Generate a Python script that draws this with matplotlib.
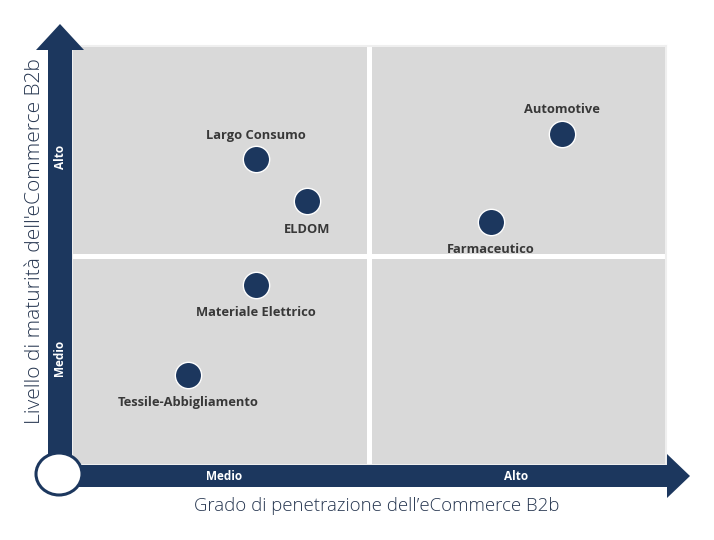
import matplotlib.pyplot as plt
from matplotlib.patches import Polygon, Ellipse

# data (x = penetrazione, y = maturità; 0-1 Medio, 1-2 Alto)
settori = ['Largo Consumo', 'ELDOM', 'Automotive', 'Farmaceutico',
           'Materiale Elettrico', 'Tessile-Abbigliamento']
penetrazione = [0.62, 0.79, 1.65, 1.41, 0.62, 0.39]
maturita = [1.46, 1.26, 1.58, 1.16, 0.86, 0.43]
label_pos = ['above', 'below', 'above', 'below', 'below', 'below']
livelli = ['Medio', 'Alto']

navy = '#1c375e'
grigio = '#d9d9d9'
testo = '#383838'
W, H = 714, 540

plt.rcParams['font.family'] = ['Open Sans', 'DejaVu Sans']
fig = plt.figure(figsize=(W / 100, H / 100), dpi=100)

# quadrant area
x0, x1, y0, y1 = 72, 666, 46, 465
ax = fig.add_axes([x0 / W, 1 - y1 / H, (x1 - x0) / W, (y1 - y0) / H])
ax.set_facecolor(grigio)
ax.set_xlim(0, 2)
ax.set_ylim(0, 2)
ax.set_xticks([])
ax.set_yticks([])
for s in ax.spines.values():
    s.set_color('#efefef')
    s.set_linewidth(1.5)
ax.axvline(1, color='white', lw=3.6)
ax.axhline(1, color='white', lw=3.6)

ax.scatter(penetrazione, maturita, s=360, color=navy, edgecolor='white',
           linewidth=1.0, zorder=3)
for name, x, y, pos in zip(settori, penetrazione, maturita, label_pos):
    dy = 24 if pos == 'above' else -28
    ax.annotate(name, (x, y), xytext=(0, dy), textcoords='offset pixels',
                ha='center', va='center', fontsize=9.3, fontweight='bold',
                color=testo, zorder=4)

# overlay in pixel coordinates for arrows and titles
ov = fig.add_axes([0, 0, 1, 1])
ov.set_xlim(0, W)
ov.set_ylim(H, 0)
ov.axis('off')
ov.patch.set_alpha(0)

v_arrow = [(48, 480), (48, 50), (36, 50), (60, 24), (84, 50), (72, 50), (72, 480)]
h_arrow = [(60, 465), (667, 465), (667, 454), (690, 476), (667, 498), (667, 487), (60, 487)]
ov.add_patch(Polygon(v_arrow, closed=True, color=navy, lw=0))
ov.add_patch(Polygon(h_arrow, closed=True, color=navy, lw=0))
ov.add_patch(Ellipse((59, 474), 46, 42, facecolor='white', edgecolor=navy, lw=2.2))

for lab, yy in zip(livelli, [358, 157]):
    ov.text(60, yy, lab, rotation=90, ha='center', va='center', color='white',
            fontsize=8.5, fontweight='bold')
for lab, xx in zip(livelli, [224, 516]):
    ov.text(xx, 476, lab, ha='center', va='center', color='white',
            fontsize=8.5, fontweight='bold')

ov.text(35, 241, "Livello di maturità dell'eCommerce B2b", rotation=90,
        ha='center', va='center', color='#263650', fontsize=15, fontweight='light')
ov.text(377, 506, 'Grado di penetrazione dell\u2019eCommerce B2b',
        ha='center', va='center', color='#263650', fontsize=13.4, fontweight='light')

fig.savefig('out.png', dpi=100)
